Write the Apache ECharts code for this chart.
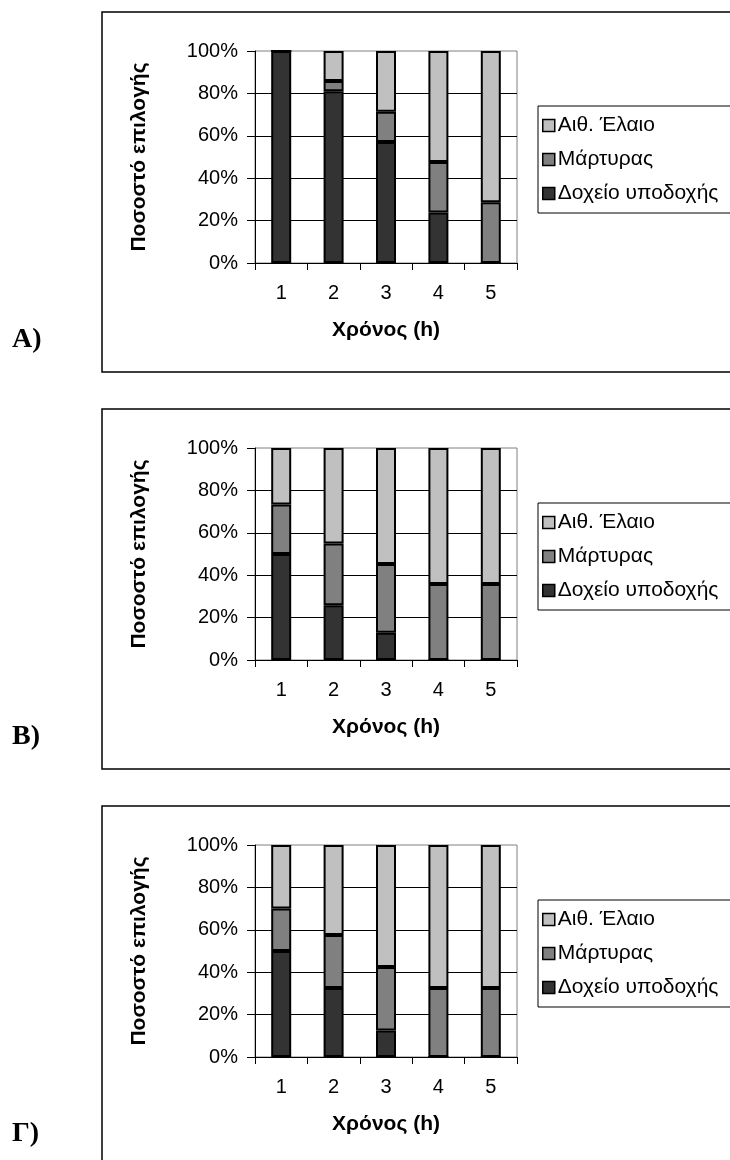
<!DOCTYPE html>
<html>
<head>
<meta charset="utf-8">
<script src="https://cdn.jsdelivr.net/npm/echarts@6/dist/echarts.min.js"></script>
<style>
  html, body { margin: 0; padding: 0; background: #fff; }
  #chart { width: 730px; height: 1160px; }
</style>
</head>
<body>
<div id="chart"></div>
<script>
// Time points (hours) on the x axis
const categories = ['1', '2', '3', '4', '5'];

// Series names, bottom segment first
const seriesNames = ['Δοχείο υποδοχής', 'Μάρτυρας', 'Αιθ. Έλαιο'];
const legendOrder = ['Αιθ. Έλαιο', 'Μάρτυρας', 'Δοχείο υποδοχής'];

// Panel A (percent of choices)
const receiverA = [100, 81.0, 57.1, 23.8, 0];
const witnessA  = [0, 4.8, 14.3, 23.8, 28.6];
const oilA      = [0, 14.2, 28.6, 52.4, 71.4];

// Panel B
const receiverB = [50, 25.8, 12.8, 0, 0];
const witnessB  = [23.3, 29.2, 32.5, 35.8, 35.8];
const oilB      = [26.7, 45.0, 54.7, 64.2, 64.2];

// Panel Γ
const receiverC = [50, 32.5, 12.5, 0, 0];
const witnessC  = [20, 25, 30, 32.5, 32.5];
const oilC      = [30, 42.5, 57.5, 67.5, 67.5];

// Y axis ticks (percent)
const yMin = 0, yMax = 100, yStep = 20;

const panelLabels = ['A)', 'B)', 'Γ)'];
const xTitle = 'Χρόνος (h)';
const yTitle = 'Ποσοστό επιλογής';

const panels = [
  [receiverA, witnessA, oilA],
  [receiverB, witnessB, oilB],
  [receiverC, witnessC, oilC]
];

// grey levels of the stacked segments
const segColors = ['#333333', '#808080', '#c0c0c0'];
const FONT = '"Liberation Sans", Arial, sans-serif';
const STEP = 397;   // vertical distance between panels

const grids = [], xAxes = [], yAxes = [], series = [], legends = [], graphics = [];

panels.forEach((data, p) => {
  const off = p * STEP;
  grids.push({
    left: 255, top: 51 + off, width: 262, height: 212,
    show: true, borderColor: '#808080', borderWidth: 1, backgroundColor: 'transparent'
  });
  xAxes.push({
    type: 'category', gridIndex: p, data: categories,
    axisLine: { show: true, lineStyle: { color: '#000', width: 1 } },
    axisTick: { show: true, length: 7, interval: 0, lineStyle: { color: '#000' } },
    axisLabel: { color: '#000', fontSize: 20, fontFamily: FONT, margin: 20 },
    splitLine: { show: false }
  });
  yAxes.push({
    type: 'value', gridIndex: p, min: yMin, max: yMax, interval: yStep,
    axisLine: { show: true, lineStyle: { color: '#000', width: 1 } },
    axisTick: { show: true, length: 8, lineStyle: { color: '#000' } },
    axisLabel: { color: '#000', fontSize: 20, fontFamily: FONT, margin: 17, formatter: '{value}%' },
    splitLine: { show: true, showMinLine: false, showMaxLine: false, lineStyle: { color: '#000', width: 1 } }
  });
  data.forEach((vals, s) => {
    series.push({
      type: 'bar', name: seriesNames[s], xAxisIndex: p, yAxisIndex: p,
      stack: 'panel' + p, data: vals, barWidth: 20,
      itemStyle: { color: segColors[s], borderColor: '#000', borderWidth: 2 },
      emphasis: { disabled: true }
    });
  });
  legends.push({
    data: legendOrder, orient: 'vertical', left: 538, top: 106 + off,
    padding: [9, 40, 9, 4], itemGap: 13, itemWidth: 12, itemHeight: 12,
    icon: 'rect', selectedMode: false,
    borderColor: '#000', borderWidth: 1, backgroundColor: '#fff',
    itemStyle: { borderColor: '#000', borderWidth: 1.5 },
    textStyle: { color: '#000', fontSize: 21, fontFamily: FONT, lineHeight: 20, padding: [0, 0, 0, -2] }
  });
  // panel frame
  graphics.push({
    type: 'rect', silent: true,
    shape: { x: 102, y: 12 + off, width: 700, height: p === 2 ? 420 : 360 },
    style: { fill: 'none', stroke: '#000', lineWidth: 1.5 }
  });
  // panel letter
  graphics.push({
    type: 'text', silent: true, x: 12, y: 340 + off,
    style: { text: panelLabels[p], font: 'bold 28px "Liberation Serif", serif', fill: '#000', align: 'left', verticalAlign: 'middle' }
  });
  // axis titles
  graphics.push({
    type: 'text', silent: true, x: 139, y: 157 + off, rotation: Math.PI / 2,
    style: { text: yTitle, font: 'bold 21px ' + FONT, fill: '#000', align: 'center', verticalAlign: 'middle' }
  });
  graphics.push({
    type: 'text', silent: true, x: 386, y: 330 + off,
    style: { text: xTitle, font: 'bold 21px ' + FONT, fill: '#000', align: 'center', verticalAlign: 'middle' }
  });
});

const chart = echarts.init(document.getElementById('chart'), null, { renderer: 'canvas' });
chart.setOption({
  animation: false,
  backgroundColor: '#fff',
  grid: grids,
  xAxis: xAxes,
  yAxis: yAxes,
  legend: legends,
  series: series,
  graphic: graphics
});
</script>
</body>
</html>
